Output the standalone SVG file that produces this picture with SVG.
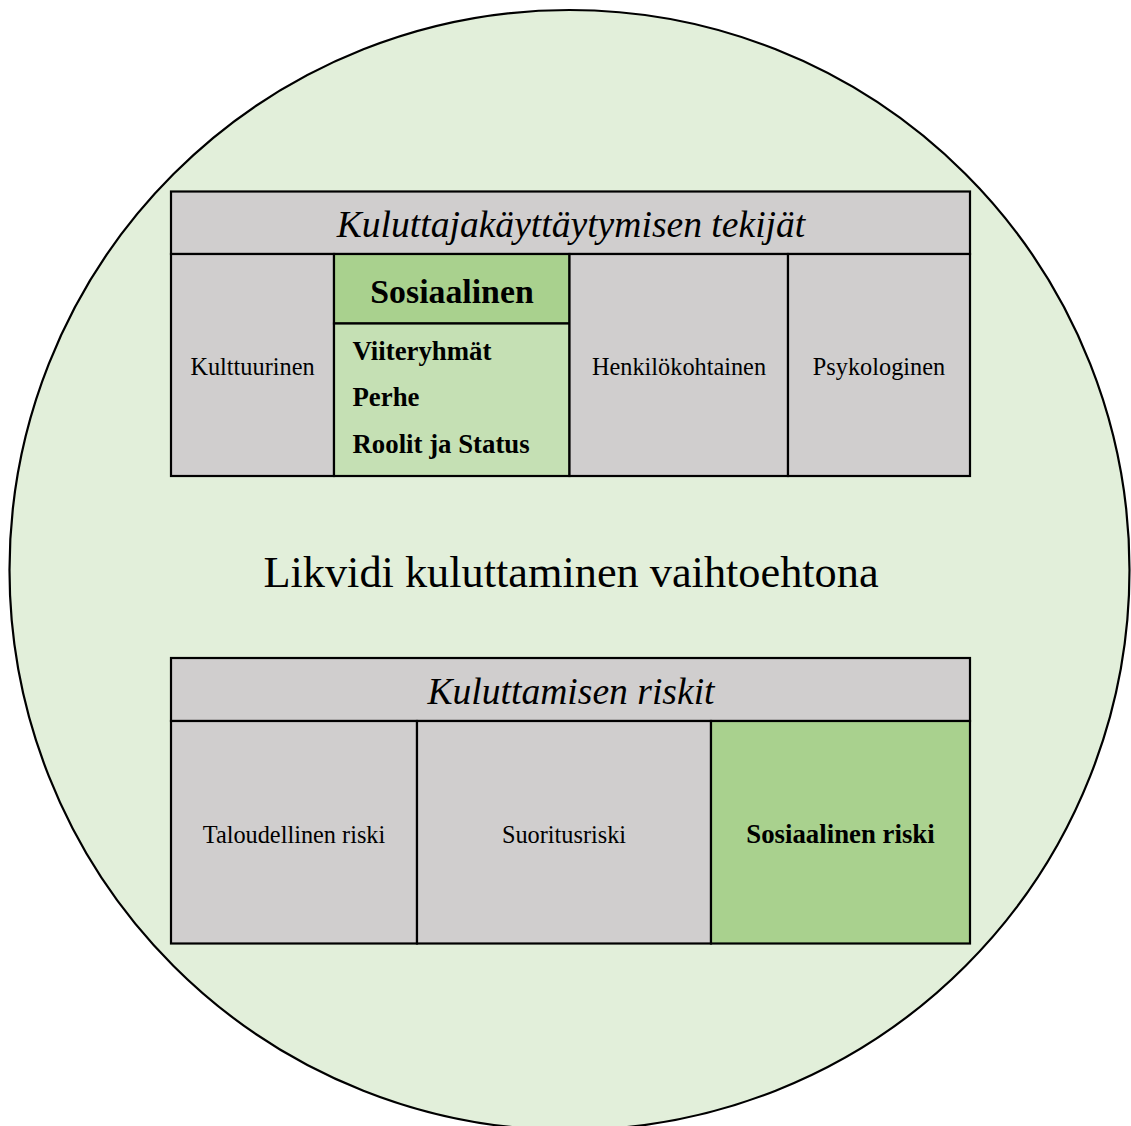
<svg xmlns="http://www.w3.org/2000/svg" width="1131" height="1126" viewBox="0 0 1131 1126">
  <style>
    .cell { stroke: #000; stroke-width: 2.2; }
    .gray { fill: #D0CECE; }
    .green { fill: #A9D18E; }
    .lgreen { fill: #C5E0B4; }
    text { font-family: "Liberation Serif", "Times New Roman", serif; fill: #000; }
    .title { font-size: 37.6px; font-style: italic; text-anchor: middle; }
    .lbl { font-size: 24.3px; text-anchor: middle; }
    .bold { font-weight: bold; font-size: 26.8px; }
    .mid { text-anchor: middle; }
  </style>
  <rect width="1131" height="1126" fill="#FFFFFF"/>
  <g id="background-circle">
    <circle cx="569.5" cy="570" r="560" fill="#E2EFDA" stroke="#000" stroke-width="2.2"/>
  </g>
  <g id="tekijat-table">
    <g id="tekijat-header">
      <rect class="cell gray" x="171" y="191.5" width="799" height="62.5"/>
      <text class="title" x="571" y="236.5">Kuluttajakäyttäytymisen tekijät</text>
    </g>
    <g id="kulttuurinen">
      <rect class="cell gray" x="171" y="254" width="163" height="222"/>
      <text class="lbl" x="252.5" y="374.5">Kulttuurinen</text>
    </g>
    <g id="sosiaalinen">
      <rect class="cell green" x="334" y="254" width="235.5" height="69.5"/>
      <text class="mid" x="452" y="303" style="font-size:33.8px;font-weight:bold">Sosiaalinen</text>
      <rect class="cell lgreen" x="334" y="323.5" width="235.5" height="152.5"/>
      <text class="bold" x="352.5" y="360">Viiteryhmät</text>
      <text class="bold" x="352.5" y="406">Perhe</text>
      <text class="bold" x="352.5" y="452.5">Roolit ja Status</text>
    </g>
    <g id="henkilokohtainen">
      <rect class="cell gray" x="569.5" y="254" width="218.5" height="222"/>
      <text class="lbl" x="679" y="374.5">Henkilökohtainen</text>
    </g>
    <g id="psykologinen">
      <rect class="cell gray" x="788" y="254" width="182" height="222"/>
      <text class="lbl" x="879" y="374.5">Psykologinen</text>
    </g>
  </g>
  <g id="center-label">
    <text class="mid" x="571" y="587" style="font-size:44.3px">Likvidi kuluttaminen vaihtoehtona</text>
  </g>
  <g id="riskit-table">
    <g id="riskit-header">
      <rect class="cell gray" x="171" y="658" width="799" height="63"/>
      <text class="title" x="571" y="704">Kuluttamisen riskit</text>
    </g>
    <g id="taloudellinen">
      <rect class="cell gray" x="171" y="721" width="246" height="222.5"/>
      <text class="lbl" x="294" y="842.5">Taloudellinen riski</text>
    </g>
    <g id="suoritusriski">
      <rect class="cell gray" x="417" y="721" width="294" height="222.5"/>
      <text class="lbl" x="564" y="842.5">Suoritusriski</text>
    </g>
    <g id="sosiaalinen-riski">
      <rect class="cell green" x="711" y="721" width="259" height="222.5"/>
      <text class="bold mid" x="840.5" y="842.5">Sosiaalinen riski</text>
    </g>
  </g>
  <g id="connectors"></g>
</svg>
